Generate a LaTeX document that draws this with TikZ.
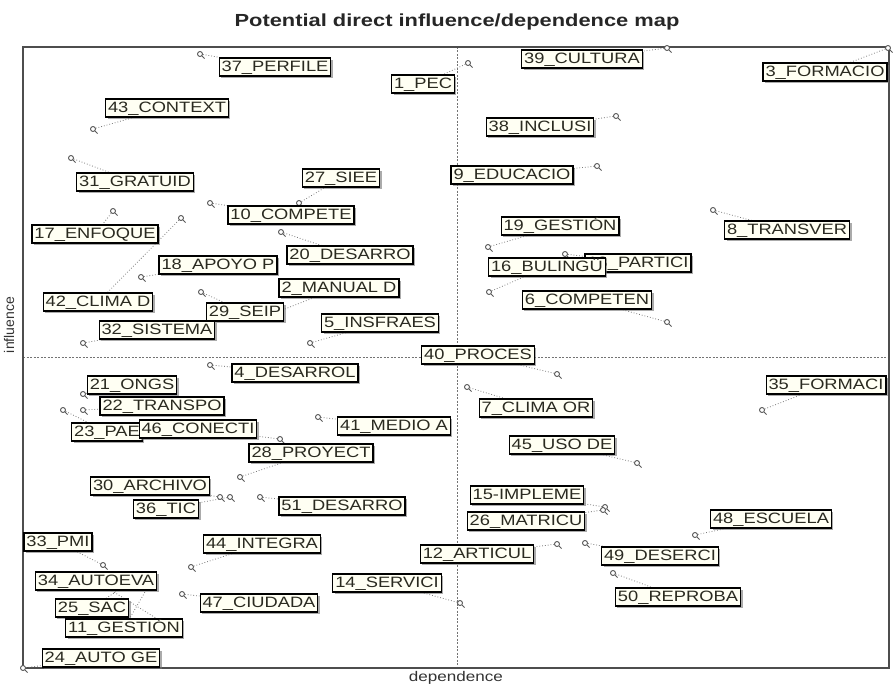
\documentclass[tikz,border=0pt]{standalone}
\usepackage{fontspec}
\usetikzlibrary{shadows}
\newfontfamily\lblfont{Liberation Sans}[FakeStretch=1.22]
\newfontfamily\ttlfont{Liberation Sans}[FakeStretch=1.25]
\newfontfamily\axfont{Liberation Sans}
\definecolor{cream}{HTML}{FFFFF3}
\definecolor{lbltext}{HTML}{2A2A20}
\definecolor{framegray}{HTML}{4D4D4D}
\definecolor{lnkgray}{HTML}{7A7A7A}
\pgfdeclarelayer{back}
\pgfsetlayers{back,main}

\tikzset{
  lbl/.style={draw=black, line width=1.1pt, fill=cream, text=lbltext,
    font=\lblfont\fontsize{15}{15}\selectfont, inner xsep=2.5pt, inner ysep=1.75pt,
    text height=11.5pt, text depth=3pt,
    drop shadow={shadow xshift=2pt, shadow yshift=-2pt, fill=black!55, opacity=.6}},
  pt/.style={circle, draw=black!65, line width=0.9pt, fill=white, inner sep=0pt, minimum size=5pt},
  tail/.style={black!65, line width=1pt},
  lnk/.style={lnkgray, dotted, line width=0.8pt},
  frame/.style={framegray, line width=2pt},
  axis/.style={black!55, dashed, dash pattern=on 2pt off 1.5pt, line width=0.6pt},
}

% variable / point x / point y / label x / label y / label
\def\vars{37/200/54/275/67/{37\_PERFILE}, 43/93/129/167/108/{43\_CONTEXT},
  31/71/158/135/182/{31\_GRATUID}, 27/299/203/341/178/{27\_SIEE},
  1/468/63/423/84/{1\_PEC}, 39/667/48/582/59/{39\_CULTURA},
  3/888/48/825/72/{3\_FORMACIO}, 38/616/116/540/127/{38\_INCLUSI},
  9/597/166/512/175/{9\_EDUCACIO}, 10/210/203/291/215/{10\_COMPETE},
  17/113/211/95/234/{17\_ENFOQUE}, 18/141/277/218/265/{18\_APOYO P},
  20/281/232/350/255/{20\_DESARRO}, 2/277/312/339/288/{2\_MANUAL D},
  29/201/292/245/312/{29\_SEIP}, 42/181/218/98/302/{42\_CLIMA D},
  32/83/343/157/330/{32\_SISTEMA}, 5/310/343/380/323/{5\_INSFRAES},
  40/557/374/478/355/{40\_PROCES}, 19/488/247/560/226/{19\_GESTIÓN},
  13/565/254/638/263/{13\_PARTICI}, 16/489/292/547/267/{16\_BULINGÜ},
  8/713/210/787/230/{8\_TRANSVER}, 6/667/322/587/300/{6\_COMPETEN},
  4/210/365/295/373/{4\_DESARROL}, 21/83/394/132/385/{21\_ONGS},
  22/83/410/162/406/{22\_TRANSPO}, 23/63/410/107/432/{23\_PAE},
  46/280/439/198/429/{46\_CONECTI}, 41/318/417/394/426/{41\_MEDIO A},
  28/240/477/311/453/{28\_PROYECT}, 30/220/497/150/486/{30\_ARCHIVO},
  36/230/497/166/509/{36\_TIC}, 51/260/497/342/506/{51\_DESARRO},
  7/467/387/536/408/{7\_CLIMA OR}, 35/762/410/826/385/{35\_FORMACI},
  45/637/463/562/445/{45\_USO DE}, 15/605/507/527/495/{15-IMPLEME},
  26/603/510/526/521/{26\_MATRICU}, 48/695/535/771/519/{48\_ESCUELA},
  12/557/544/477/554/{12\_ARTICUL}, 49/585/543/660/556/{49\_DESERCI},
  50/613/573/678/597/{50\_REPROBA}, 14/460/603/387/583/{14\_SERVICI},
  33/103/565/58/542/{33\_PMI}, 44/191/567/262/544/{44\_INTEGRA},
  47/182/594/259/603/{47\_CIUDADA}, 25/130/582/92/608/{25\_SAC},
  11/152/580/124/628/{11\_GESTIÓN}, 34/172/628/96/581/{34\_AUTOEVA},
  24/23/668/101/658/{24\_AUTO GE}}

\begin{document}
\begin{tikzpicture}[x=1pt,y=-1pt]
\useasboundingbox (0,0) rectangle (895,685);

% frame and quadrant axes
\coordinate (tl) at (23,47);
\coordinate (br) at (889,668);
\coordinate (mid) at (457,357);
\begin{pgfonlayer}{back}
  \draw[axis] (mid |- tl) -- (mid |- br);
  \draw[axis] (tl |- mid) -- (br |- mid);
  \draw[frame] (tl) rectangle (br);
\end{pgfonlayer}

\node[font=\ttlfont\bfseries\fontsize{17.5}{17.5}\selectfont, text=black!85] (title) at (457,22) {Potential direct influence/dependence map};
\node[font=\lblfont\fontsize{14}{14}\selectfont, text=black!80] (xlab) at (456,678) {dependence};
\node[font=\axfont\fontsize{14}{14}\selectfont, text=black!80, rotate=90] (ylab) at (9,325) {influence};

% points first, so that the boxes cover them
\foreach \n/\px/\py/\lx/\ly/\txt in \vars {
  \node[pt] (p\n) at (\px,\py) {};
  \draw[tail] (p\n.south east) -- ++(2.5,2.5);
}

% labels and their dotted leaders
\foreach \n/\px/\py/\lx/\ly/\txt in \vars {
  \node[lbl] (l\n) at (\lx,\ly) {\txt};
  \begin{pgfonlayer}{back}
    \draw[lnk] (p\n) -- (l\n);
  \end{pgfonlayer}
}
\end{tikzpicture}
\end{document}
